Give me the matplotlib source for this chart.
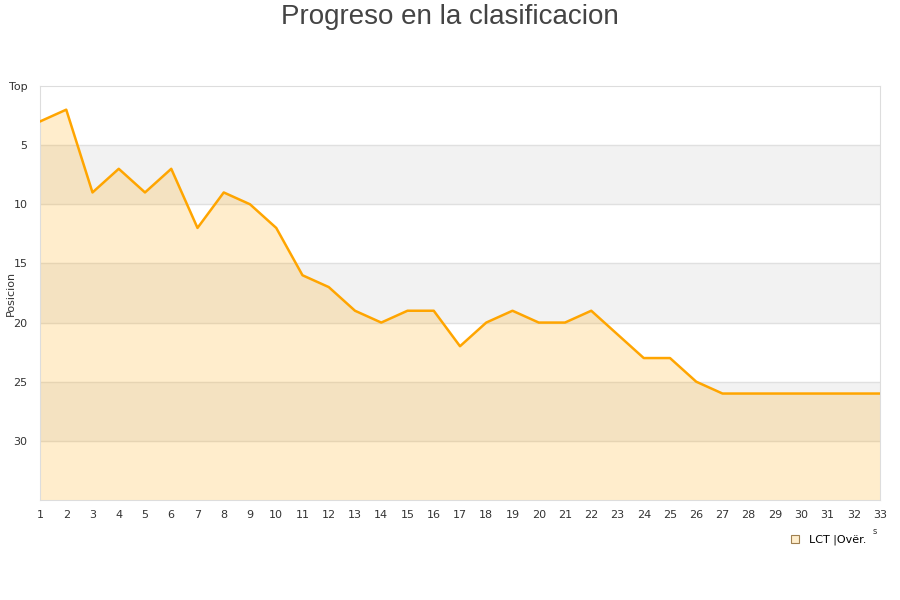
import matplotlib.pyplot as plt
from matplotlib.lines import Line2D

jornadas = list(range(1, 34))
posicion = [3, 2, 9, 7, 9, 7, 12, 9, 10, 12, 16, 17, 19, 20, 19, 19, 22, 20, 19, 20,
            20, 19, 21, 23, 23, 25, 26, 26, 26, 26, 26, 26, 26]
ytick_vals = [0, 5, 10, 15, 20, 25, 30]
ytick_labels = ['Top', '5', '10', '15', '20', '25', '30']
serie = 'LCT |Ovër.'

fig = plt.figure(figsize=(9, 6), dpi=100)
ax = fig.add_axes([40/900, 100/600, 840/900, 414/600])

# bandas grises alternas
for lo in (5, 15, 25):
  ax.axhspan(lo, lo + 5, color='#f2f2f2', zorder=0, lw=0)
for y in ytick_vals[1:]:
  ax.axhline(y, color='#e0e0e0', lw=1, zorder=1)

ax.fill_between(jornadas, posicion, 35, color='#ffa500', alpha=0.2, lw=0, zorder=2)
ax.plot(jornadas, posicion, color='#ffa500', lw=1.8, zorder=3)

ax.set_xlim(1, 33)
ax.set_ylim(35, 0)
ax.set_xticks(jornadas)
ax.set_yticks(ytick_vals)
ax.set_yticklabels(ytick_labels)
ax.tick_params(length=0, labelsize=8, colors='#333333')
ax.tick_params(axis='y', pad=9)
ax.tick_params(axis='x', pad=7)
for s in ax.spines.values():
  s.set_color('#dddddd')

fig.text(11/900, 1 - 293/600, 'Posicion', rotation=90, fontsize=8, color='#333333',
         ha='center', va='center')
fig.text(0.5, 1 - 24/600, 'Progreso en la clasificacion', fontsize=20, color='#444444',
         family='Liberation Sans', ha='center', va='baseline')

handle = Line2D([], [], marker='s', ls='none', markersize=6,
                markerfacecolor='#ffeecc', markeredgecolor='#a08050', markeredgewidth=0.8)
fig.legend([handle], [serie], loc='center', bbox_to_anchor=(825/900, 1 - 540/600),
           frameon=False, fontsize=8, handletextpad=0.3)
fig.text(875/900, 1 - 531/600, 's', fontsize=6, color='#333333', ha='center', va='center')

fig.savefig('out.png', dpi=100)
